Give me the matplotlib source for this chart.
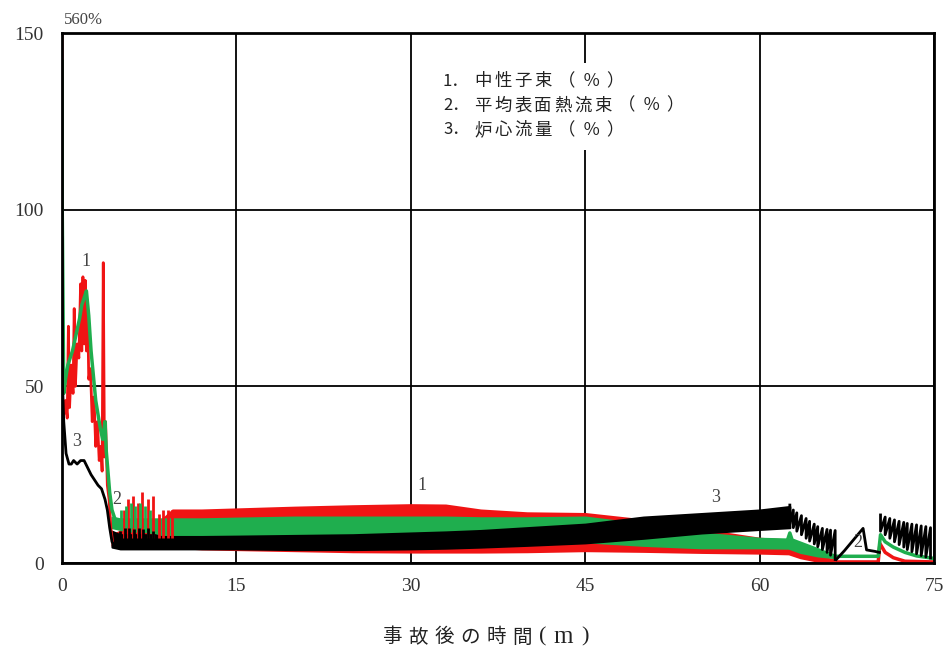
import numpy as np
import matplotlib
matplotlib.use('Agg')
import matplotlib.pyplot as plt
from matplotlib.patches import Rectangle

# early part (0 - 4.5 min), read point by point
red_early_t = [0.0, 0.05, 0.15, 0.3, 0.45, 0.55, 0.65, 0.8, 0.95, 1.05, 1.15, 1.3, 1.45, 1.6, 1.7, 1.8,
               1.9, 2.0, 2.1, 2.2, 2.3, 2.45, 2.6, 2.75, 2.9, 3.05, 3.2, 3.35, 3.45, 3.55, 3.65, 3.75,
               3.9, 4.05, 4.2, 4.35]
red_early_v = [158, 47, 42, 46, 41, 67, 44, 56, 48, 72, 50, 62, 58, 79, 60, 81,
               62, 80, 60, 74, 52, 55, 40, 47, 33, 40, 29, 33, 26, 85, 30, 40,
               22, 18, 10, 6]
green_early_t = [0.0, 0.02, 0.15, 0.3, 0.5, 0.7, 0.9, 1.1, 1.3, 1.5, 1.7, 1.9, 2.1, 2.3, 2.5, 2.7,
                 2.9, 3.1, 3.3, 3.5, 3.7, 3.8, 3.9, 4.1, 4.3, 4.5]
green_early_v = [142, 100, 48, 52, 56, 58, 60, 63, 66, 69, 73, 75, 77, 70, 60, 53,
                 46, 42, 38, 35, 40, 32, 28, 20, 15, 13]
black_early_t = [0.0, 0.05, 0.15, 0.35, 0.6, 0.8, 1.0, 1.3, 1.6, 1.9, 2.2, 2.5, 2.8, 3.1, 3.4, 3.7,
                 3.9, 4.1, 4.3, 4.5]
black_early_v = [92, 50, 40, 31, 28, 28, 29, 28, 29, 29, 27, 25, 23.5, 22, 21, 18,
                 15, 10, 6, 5]

# oscillating band envelopes (min / max of the fast oscillation)
band_t = [4.3, 5, 6, 7, 8, 8.5, 9.5, 12, 15, 20, 25, 30, 33, 36, 40, 45, 50, 55, 60, 62.5, 63.5, 65, 66.5]
red_hi = [8, 9, 9.5, 9.5, 9.5, 12, 15, 15, 15.3, 15.8, 16.2, 16.5, 16.4, 15, 14.2, 14, 12.2, 9.5, 7, 6.5, 4.5, 2, 0.8]
red_lo = [5, 6, 6.5, 6.5, 6, 5, 4.5, 4, 3.8, 3.5, 3.2, 3.1, 3.1, 3.1, 3.2, 3.5, 3.3, 3, 2.8, 2.6, 1.5, 0.5, 0.3]
green_hi = [13, 12.5, 12.5, 12.5, 12.5, 12.5, 12.5, 12.5, 12.7, 13, 13, 13, 13, 12.8, 12.8, 13, 11, 8.5, 7, 6.8, 5.5, 3.5, 2]
green_lo = [10, 9.5, 9, 9, 8.5, 8, 7.5, 7.5, 7.5, 7.5, 7.5, 7.5, 7.3, 7, 6.5, 6, 5, 4.3, 4.3, 4.2, 3, 2, 1.5]
black_band_t = [4.3, 5, 6, 7, 8, 8.5, 9.5, 12, 15, 20, 25, 30, 33, 36, 40, 45, 50, 55, 60, 62.6]
black_hi = [9, 8, 8, 8, 8, 7.5, 7.5, 7.5, 7.6, 7.8, 8, 8.5, 8.8, 9.2, 10, 11, 13, 14, 15, 16]
black_lo = [4.5, 4, 4, 4, 4, 4, 4, 4, 4, 3.8, 3.8, 4, 4.2, 4.5, 5, 5.7, 7, 8.5, 9.5, 10]

# spikes on top of the bands between 5 and 10 min
red_spike_t = [5.3, 5.7, 6.1, 6.5, 6.9, 7.4, 7.8, 8.3, 8.7, 9.1, 9.5]
red_spike_v = [15, 18, 19, 17, 20, 18, 19, 14, 15, 15, 15]
green_spike_t = [5.1, 5.5, 5.9, 6.3, 6.7, 7.1, 7.6]
green_spike_v = [15, 16, 17, 16, 17, 16, 15]
black_spike_t = [5.0, 5.4, 5.8, 6.2, 6.6, 7.0, 7.4, 7.8]
black_spike_v = [9, 10, 10, 9.5, 10, 9.5, 10, 9]

# tail (after 62.5 min)
black_teeth1_t = [62.6, 62.9, 63.2, 63.6, 64.0, 64.3, 64.7, 65.0, 65.4, 65.8, 66.1, 66.5]
black_teeth1_top = [16.4, 15, 14.2, 13.4, 12.6, 11.8, 11, 10.3, 9.8, 9.5, 9.3, 9.2]
black_teeth1_bot = [11, 10, 9, 8, 7, 6.2, 5.4, 4.6, 3.8, 3, 2.2, 1.0]
black_mid_t = [66.6, 67.3, 68.9, 69.2, 69.9, 70.3]
black_mid_v = [1.0, 3.5, 9.8, 3.7, 3.3, 3.0]
black_teeth2_t = [70.4, 70.8, 71.2, 71.6, 72.0, 72.4, 72.7, 73.1, 73.5, 73.9, 74.3, 74.7]
black_teeth2_top = [13.6, 13.0, 12.6, 12.2, 11.8, 11.5, 11.2, 11, 10.8, 10.5, 10.3, 10]
black_teeth2_bot = [9, 8, 7, 6, 5.2, 4.5, 3.8, 3.2, 2.6, 2.1, 1.7, 1.4]
green_tail_t = [62.4, 62.6, 62.8, 66.5, 70.2, 70.4, 70.8, 71.5, 72.5, 73.5, 75]
green_tail_v = [6.5, 8.5, 6.5, 1.9, 1.9, 8, 6, 4.5, 3, 2, 1.3]
red_tail_t = [66.5, 70.2, 70.35, 70.8, 71.5, 72.5, 75]
red_tail_v = [0.3, 0.3, 5.5, 3, 1.5, 0.5, 0.3]

labels = [('1', 2.1, 83), ('1', 31, 19.5), ('2', 4.7, 15.5), ('2', 68.4, 3.5), ('3', 1.3, 32), ('3', 56.2, 16)]
legend_nums = ['1．', '2．', '3．']
legend_names = ['中性子束', '平均表面熱流束', '炉心流量']
legend_unit = '（％）'
xlabel_chars = ['事', '故', '後', 'の', '時', '間']
xlabel_unit = ['(', 'm', ')']

RED = '#f01414'
GREEN = '#1fae4e'
BLACK = '#000000'
serif = 'Liberation Serif'
cjk = ['Noto Sans CJK JP', 'DejaVu Sans']
W, H = 952, 658


def teeth(t, top, bot):
    xs, ys = [], []
    for a, b, c in zip(t, top, bot):
        xs += [a, a]
        ys += [b, c]
    return xs, ys


fig = plt.figure(figsize=(W / 100, H / 100), dpi=100)
ax = fig.add_axes([62 / W, 95 / H, 872 / W, 530 / H])

# neutron flux
ax.plot(red_early_t, red_early_v, color=RED, lw=2)
ax.fill_between(band_t, red_lo, red_hi, color=RED, lw=1.5, edgecolor=RED)
ax.vlines(red_spike_t, 7, red_spike_v, color=RED, lw=2)
ax.plot(red_tail_t, red_tail_v, color=RED, lw=2.5)

# heat flux
ax.plot(green_early_t, green_early_v, color=GREEN, lw=2.5)
ax.fill_between(band_t, green_lo, green_hi, color=GREEN, lw=1.5, edgecolor=GREEN)
ax.vlines(green_spike_t, 10, green_spike_v, color=GREEN, lw=2)
ax.plot(green_tail_t, green_tail_v, color=GREEN, lw=2.5)

# core flow
ax.plot(black_early_t, black_early_v, color=BLACK, lw=2)
ax.fill_between(black_band_t, black_lo, black_hi, color=BLACK, lw=1.5, edgecolor=BLACK)
ax.vlines(black_spike_t, 4, black_spike_v, color=BLACK, lw=2)
xs, ys = teeth(black_teeth1_t, black_teeth1_top, black_teeth1_bot)
ax.plot(xs, ys, color=BLACK, lw=2)
ax.plot(black_mid_t, black_mid_v, color=BLACK, lw=2)
xs, ys = teeth(black_teeth2_t, black_teeth2_top, black_teeth2_bot)
ax.plot(xs, ys, color=BLACK, lw=2)

for s, x, y in labels:
    ax.text(x, y, s, family=serif, fontsize=13, color='#444444', ha='center', va='bottom')

ax.set_xlim(0, 75)
ax.set_ylim(0, 150)
ax.set_xticks([0, 15, 30, 45, 60, 75])
ax.set_yticks([0, 50, 100, 150])
ax.grid(color='black', lw=1.3)
ax.set_axisbelow(True)
for sp in ax.spines.values():
    sp.set_linewidth(2)
ax.tick_params(length=0, labelsize=14, labelcolor='#333333')
ax.tick_params(axis='x', pad=11)
ax.tick_params(axis='y', pad=13)
for lab in ax.get_xticklabels() + ax.get_yticklabels():
    lab.set_family(serif)

ax.text(0.2, 151.5, '560%', family=serif, fontsize=12, color='#444444', ha='left', va='bottom')

# white box behind the legend text (hides the grid line)
fig.add_artist(Rectangle((440 / W, 1 - 150 / H), 262 / W, 87 / H, transform=fig.transFigure,
                         facecolor='white', edgecolor='none', zorder=1.5))

# legend lines, one glyph at a time to keep the wide letter spacing
for i in range(3):
    y = 1 - (81 + 24.5 * i) / H
    fig.text(443 / W, y, legend_nums[i], family=cjk, fontsize=12, color='#222222', ha='left', va='center')
    x = 483
    for ch in legend_names[i]:
        fig.text(x / W, y, ch, family=cjk, fontsize=12.5, color='#222222', ha='center', va='center')
        x += 20
    x += 4
    for ch in legend_unit:
        fig.text(x / W, y, ch, family=cjk, fontsize=12.5, color='#222222', ha='center', va='center')
        x += 24

x = 392
for ch in xlabel_chars:
    fig.text(x / W, 21 / H, ch, family=cjk, fontsize=14, color='#222222', ha='center', va='center')
    x += 26
for ch, xc, fs in zip(xlabel_unit, [543, 563, 585], [16, 18, 16]):
    fig.text(xc / W, 21 / H, ch, family=serif, fontsize=fs, color='#222222', ha='center', va='center')

plt.savefig('out.png', dpi=100)
